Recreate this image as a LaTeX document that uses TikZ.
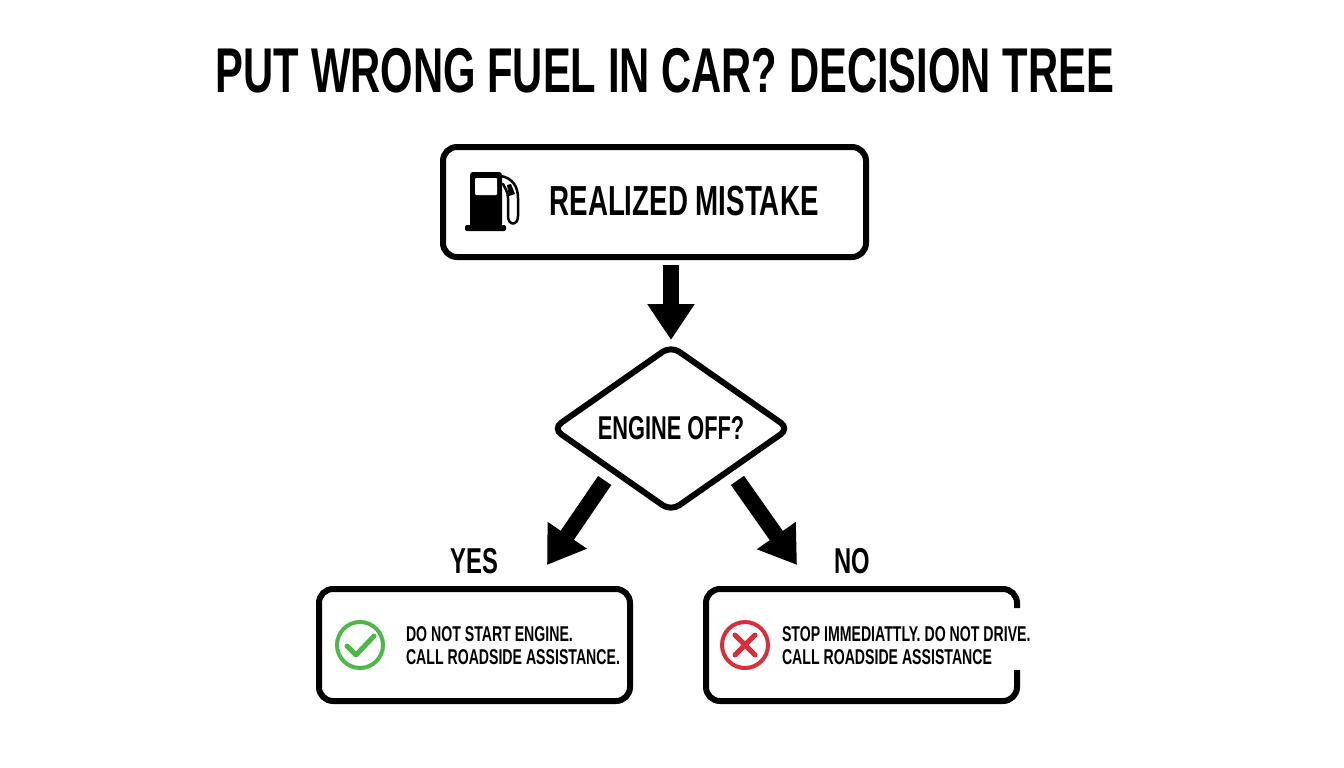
\documentclass[tikz,border=0pt]{standalone}
\usepackage{fontspec}
\setmainfont[FakeStretch=0.66]{Liberation Sans}
\usetikzlibrary{positioning,shapes.geometric,arrows.meta,calc}

\definecolor{okgreen}{HTML}{4DB848}
\definecolor{stopred}{HTML}{D8303A}

\tikzset{
    every node/.style={inner sep=0pt, outer sep=0pt},
    outcome/.style={rounded corners=14pt, minimum width=311pt, minimum height=112pt},
    boxline/.style={draw=black, line width=6pt},
    bigarrow/.style={line width=16pt, -{Triangle[length=36pt,width=45pt]}},
    smalltext/.style={font=\fontsize{21.4}{23}\selectfont\bfseries, align=left},
    branchlabel/.style={font=\fontsize{36}{40}\selectfont\bfseries},
}

\begin{document}
\begin{tikzpicture}[x=1pt, y=-1pt]
    \useasboundingbox (0,0) rectangle (1344,768);

    \node (title) at (665,71) {\fontsize{63.3}{70}\selectfont\bfseries PUT WRONG FUEL IN CAR? DECISION TREE};

    \node [boxline, rounded corners=14pt, minimum width=423pt, minimum height=110pt] (start) at (654.5,202) {};
    \node [font=\fontsize{42}{44}\selectfont\bfseries] (startlabel) at (684,201) {REALIZED MISTAKE};

    \node [boxline, diamond, rounded corners=10pt, aspect=1.43, minimum width=236pt, minimum height=165pt,
           below=89pt of start, xshift=16.5pt] (test) {};
    \node [font=\fontsize{33}{35}\selectfont\bfseries] (testlabel) at (671,428) {ENGINE OFF?};

    \node [outcome, boxline] (yesbox) at (474.5,645) {};
    \node [outcome] (nobox) at (861.5,645) {};

    \node [branchlabel, above=15pt of yesbox] (yes) {YES};
    \node [branchlabel, above=15pt of nobox, xshift=-9pt] (no) {NO};

    \coordinate (yestip) at (547,565);
    \coordinate (notip) at (797,565);

    % icons
    \node [circle, draw=okgreen, line width=4pt, minimum size=46pt] (okicon) at (360,645) {};
    \node [circle, draw=stopred, line width=4pt, minimum size=46pt] (stopicon) at (745,645) {};
    \draw [okgreen, line width=5pt, line cap=round, line join=round]
        (okicon.center) ++(-13,1) -- ++(9,9) -- ++(18,-19);
    \draw [stopred, line width=5pt, line cap=round]
        (stopicon.center) ++(-10,-10) -- ++(20,20) ++(0,-20) -- ++(-20,20);

    \node [smalltext, right=23pt of okicon, yshift=-1pt] (yestext) {DO NOT START ENGINE.\\CALL ROADSIDE ASSISTANCE.};
    \node [smalltext, right=14pt of stopicon, yshift=-1pt] (notext) {STOP IMMEDIATTLY. DO NOT DRIVE.\\CALL ROADSIDE ASSISTANCE};

    % no box has a gap on its right side
    \draw [line width=6pt, rounded corners=14pt]
        (nobox.east |- 0,608) -- (nobox.north east) -- (nobox.north west)
        -- (nobox.south west) -- (nobox.south east) -- (nobox.east |- 0,670);

    % pump
    \fill [rounded corners=3pt] (470,172) rectangle (502,227);
    \fill [rounded corners=2pt] (465,225) rectangle (506,231);
    \fill [white, rounded corners=1pt] (475,178) rectangle (497,195);
    \draw [line width=2.5pt, line cap=round]
        (501,176) .. controls (512,178) and (518,186) .. (518,198)
        -- (518,216) .. controls (518,226) and (508,226) .. (508,216)
        -- (508,198) .. controls (508,192) and (505,188) .. (503,184);
    \fill (507,185) -- (511,184) -- (515,194) -- (509,196) -- cycle;

    % arrows
    \draw [bigarrow] (test.north |- start.south) ++(0,8) -- ($(test.north)+(0,-6)$);
    \draw [bigarrow, shorten <=13pt] (test.south west) -- (yestip);
    \draw [bigarrow, shorten <=13pt] (test.south east) -- (notip);
\end{tikzpicture}
\end{document}
